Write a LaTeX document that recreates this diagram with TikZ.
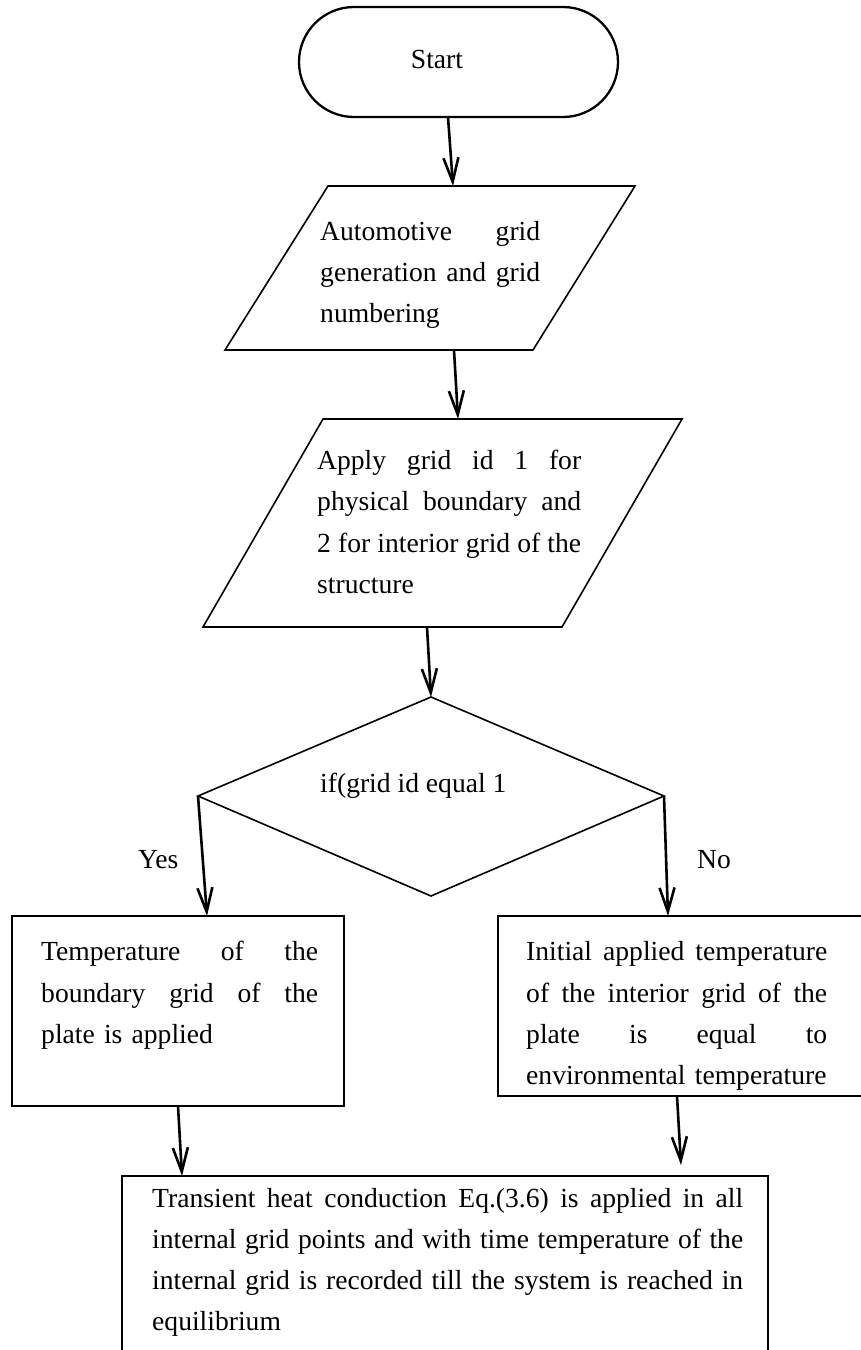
\documentclass[tikz,border=0pt]{standalone}
\usepackage{fontspec}
\setmainfont{Liberation Serif}
\usetikzlibrary{arrows.meta}
\setlength\parindent{0pt}
\newcommand\jl[2]{{\spaceskip=0.25em plus 1fil\relax\xspaceskip=\spaceskip\makebox[#1][s]{#2}}}
\begin{document}
\begin{tikzpicture}[x=1pt,y=-1pt,
  shapeline/.style={line width=1.6pt, line join=miter},
  termline/.style={line width=2.3pt},
  flow/.style={line width=2.6pt, -{Straight Barb[length=24pt,width=15pt]}},
  txt/.style={font=\fontsize{27.6}{41.3}\selectfont, inner sep=0pt, anchor=base west, align=left},
  lbl/.style={font=\fontsize{27.6}{33}\selectfont, inner sep=0pt},
]
\useasboundingbox (0,0) rectangle (861,1350);

% ---- shapes ----
% Start terminal
\draw[termline, rounded corners=55pt] (299,7) rectangle (618,117);
\node[lbl, anchor=base] (start) at (437,68.5) {Start};

% parallelogram 1
\coordinate (p1tl) at (328,186); \coordinate (p1tr) at (635,186);
\coordinate (p1br) at (533,350); \coordinate (p1bl) at (225,350);
\draw[shapeline] (p1tl) -- (p1tr) -- (p1br) -- (p1bl) -- cycle;
\node[txt, text width=220pt] (t1) at (320,240)
  {\jl{220pt}{Automotive grid}\\\jl{220pt}{generation and grid}\\numbering};

% parallelogram 2
\coordinate (p2tl) at (323,419); \coordinate (p2tr) at (682,419);
\coordinate (p2br) at (562,627); \coordinate (p2bl) at (203,627);
\draw[shapeline] (p2tl) -- (p2tr) -- (p2br) -- (p2bl) -- cycle;
\node[txt, text width=264pt] (t2) at (317,469.5)
  {\jl{264pt}{Apply grid id 1 for}\\\jl{264pt}{physical boundary and}\\\jl{264pt}{2 for interior grid of the}\\structure};

% decision diamond
\coordinate (dt) at (431,697); \coordinate (dl) at (198,796);
\coordinate (dr) at (664,796); \coordinate (db) at (431,896);
\draw[shapeline] (dt) -- (dr) -- (db) -- (dl) -- cycle;
\node[lbl, anchor=base west] (cond) at (320,792) {if(grid id equal 1};
\node[lbl, anchor=base west] (yes) at (138,868) {Yes};
\node[lbl, anchor=base west] (no) at (697,868) {No};

% left box
\draw[shapeline] (12,916) rectangle (344,1106);
\node[txt, text width=277pt] (t3) at (41,960.7)
  {\jl{277pt}{Temperature of the}\\\jl{277pt}{boundary grid of the}\\plate is applied};

% right box (right edge beyond the picture)
\draw[shapeline] (863,916) -- (498,916) -- (498,1096) -- (863,1096);
\node[txt, text width=301pt] (t4) at (526,960.7)
  {\jl{301pt}{Initial applied temperature}\\\jl{301pt}{of the interior grid of the}\\\jl{301pt}{plate is equal to}\\environmental temperature};

% bottom box (open at the bottom)
\draw[shapeline] (122,1353) -- (122,1176) -- (768,1176) -- (768,1353);
\node[txt, text width=591pt] (t5) at (152,1207)
  {\jl{591pt}{Transient heat conduction Eq.(3.6) is applied in all}\\\jl{591pt}{internal grid points and with time temperature of the}\\\jl{591pt}{internal grid is recorded till the system is reached in}\\equilibrium};

% ---- connectors ----
\coordinate (a1s) at (448,117); \coordinate (a1e) at (453,186);
\coordinate (a2s) at (454,350); \coordinate (a2e) at (458,419);
\coordinate (a3s) at (427,627); \coordinate (a3e) at (431,697);
\coordinate (a6s) at (178,1106); \coordinate (a6e) at (182,1176);
\coordinate (a7s) at (677,1096); \coordinate (a7e) at (681,1165);
\coordinate (ylft) at (207,916); \coordinate (nrgt) at (668,916);

\draw[flow] (a1s) -- (a1e);
\draw[flow] (a2s) -- (a2e);
\draw[flow] (a3s) -- (a3e);
\draw[flow] (dl) -- (ylft);
\draw[flow] (dr) -- (nrgt);
\draw[flow] (a6s) -- (a6e);
\draw[flow] (a7s) -- (a7e);
\end{tikzpicture}
\end{document}
